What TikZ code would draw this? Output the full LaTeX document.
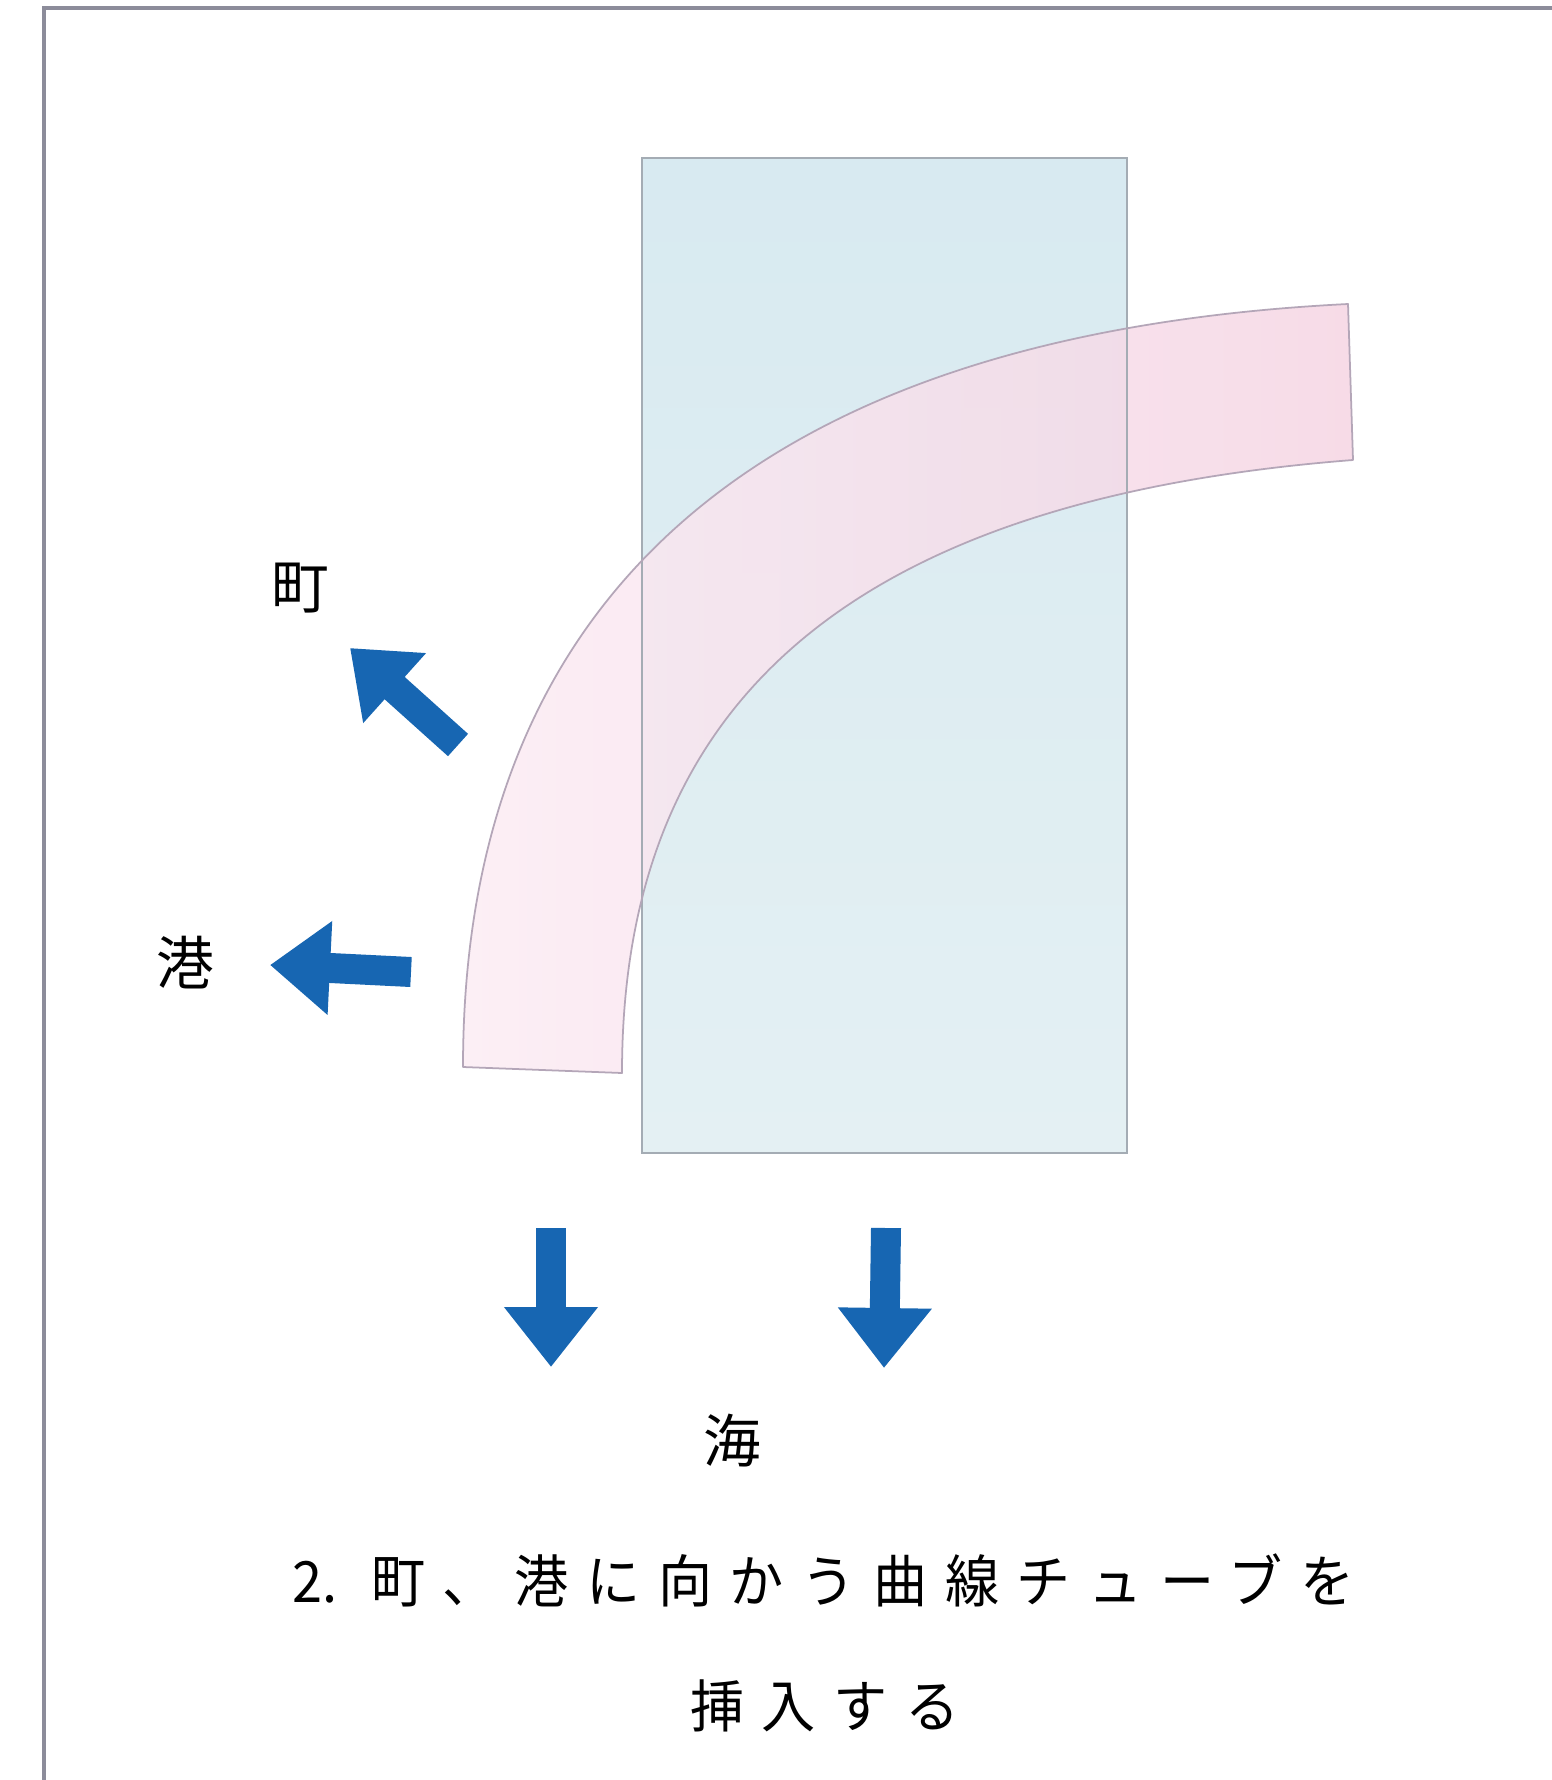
\documentclass[tikz,border=0pt]{standalone}
\usepackage{fontspec}
\newfontfamily\cjk{Noto Sans CJK JP}
\newfontfamily\cjkcap[FakeStretch=0.95,LetterSpace=31]{Noto Sans CJK JP}
\newfontfamily\cjkcapnum[FakeStretch=0.95]{Noto Sans CJK JP}
\usetikzlibrary{arrows.meta}
\definecolor{arrowblue}{HTML}{1766B2}
\definecolor{framegray}{HTML}{8C8C9A}
\definecolor{boxedge}{HTML}{A4ACB4}
\definecolor{seatop}{HTML}{D8EAF1}
\definecolor{seabot}{HTML}{E4F0F3}
\definecolor{tubeleft}{HTML}{FCEBF3}
\definecolor{tuberight}{HTML}{F5D3E2}
\definecolor{tubeedge}{HTML}{B4A6B8}
\begin{document}
\begin{tikzpicture}[x=0.05cm,y=-0.05cm,
  bigarrow/.style={draw=arrowblue, line width=1.5cm, -{Triangle[width=4.5cm,length=3cm]}},
  label/.style={font=\cjk\fontsize{82}{90}\selectfont, inner sep=0pt, text=black},
  caption/.style={font=\fontsize{81}{90}\selectfont, inner sep=0pt, text=black, anchor=west}]
\useasboundingbox (0,0) rectangle (1552,1780);
\fill[white] (0,0) rectangle (1552,1780);
% frame
\draw[framegray, line width=7pt] (44,1780) -- (44,8) -- (1552,8);
% sea box
\shade[top color=seatop, bottom color=seabot] (642,158) rectangle (1127,1153);
% curved tube
\shade[left color=tubeleft, right color=tuberight, fill opacity=0.8]
  (463,1067) .. controls (463,620) and (730,335) .. (1348,304) -- (1353,460)
  .. controls (840,500) and (622,710) .. (622,1073) -- cycle;
\draw[boxedge, line width=3.5pt] (642,158) rectangle (1127,1153);
\draw[tubeedge, line width=2.5pt, line join=round]
  (463,1067) .. controls (463,620) and (730,335) .. (1348,304) -- (1353,460)
  .. controls (840,500) and (622,710) .. (622,1073) -- cycle;
% arrows
\coordinate (machiTail) at (458,745);
\coordinate (machiTip) at (350,648);
\coordinate (minatoTail) at (411,972);
\coordinate (minatoTip) at (270,965);
\coordinate (seaTailA) at (551,1228);
\coordinate (seaTipA) at (551,1367);
\coordinate (seaTailB) at (886,1228);
\coordinate (seaTipB) at (884,1368);
\draw[bigarrow] (machiTail) -- (machiTip);
\draw[bigarrow] (minatoTail) -- (minatoTip);
\draw[bigarrow] (seaTailA) -- (seaTipA);
\draw[bigarrow] (seaTailB) -- (seaTipB);
% labels
\node[label] (machi) at (300,588) {町};
\node[label] (minato) at (185,963) {港};
\node[label] (umi) at (732,1441) {海};
\node[caption] (capA) at (292,1580) {{\cjkcapnum 2.}\hspace{1.7cm}{\cjkcap 町、港に向かう曲線チューブを}};
\node[caption] (capB) at (690,1706) {{\cjkcap 挿入する}};
\end{tikzpicture}
\end{document}
